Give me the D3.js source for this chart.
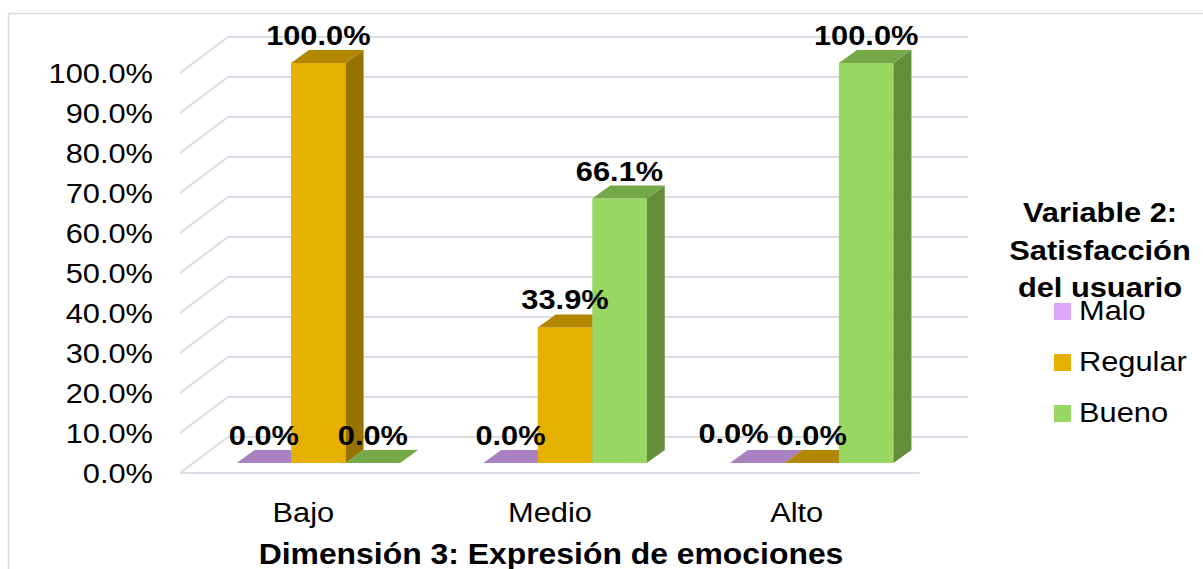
<!DOCTYPE html>
<html>
<head>
<meta charset="utf-8">
<script src="https://cdn.jsdelivr.net/npm/d3@7"></script>
<style>
  html, body { margin: 0; padding: 0; background: #fff; }
  svg { display: block; font-family: "Liberation Sans", Arial, sans-serif; }
</style>
</head>
<body>
<svg id="chart" width="1203" height="569"></svg>
<script>
// Chart data
const categories = ["Bajo", "Medio", "Alto"];
const series = ["Malo", "Regular", "Bueno"];
const valuesMalo = [0.0, 0.0, 0.0];
const valuesRegular = [1.0, 0.339, 0.0];
const valuesBueno = [0.0, 0.661, 1.0];
const yTicks = [0, 0.1, 0.2, 0.3, 0.4, 0.5, 0.6, 0.7, 0.8, 0.9, 1.0];
const xTitle = "Dimensión 3: Expresión de emociones";
const legendTitle = ["Variable 2:", "Satisfacción", "del usuario"];

const seriesValues = [valuesMalo, valuesRegular, valuesBueno];

// Face colours per series: front, top, side
const frontCol = ["#dca8f9", "#e6b000", "#98d762"];
const topCol   = ["#a981c1", "#b38600", "#75a846"];
const sideCol  = ["#9170a6", "#977200", "#658e3b"];

const svg = d3.select("#chart");
const SX = 1.1;      // horizontal stretch of the lettering
const FS = 28;       // font size

// Geometry of the 3-D box
const floorL = 180, floorR = 920;
const wall = { dx: 48, dy: -36 };       // depth from front floor edge to back wall
const barFront = { dx: 15, dy: -10 };   // front plane of the columns
const barDepth = { dx: 18, dy: -13 };   // thickness of each column

const y = d3.scaleLinear().domain([0, 1]).range([473, 73]);
const x = d3.scaleBand().domain(categories).range([floorL, floorR]);
const groupW = x.bandwidth() * 0.663;
const xs = d3.scaleBand().domain(series).range([0, groupW]);

function placeText(sel, px, py) {
  return sel.attr("transform", `translate(${px},${py}) scale(${SX},1)`);
}

// Outer chart border
svg.append("rect")
  .attr("x", 8.5).attr("y", 13.5)
  .attr("width", 1210).attr("height", 600)
  .attr("fill", "none").attr("stroke", "#d9dce3").attr("stroke-width", 1.5);

// Gridlines: side wall diagonals + back wall horizontals
const grid = svg.append("g").attr("stroke", "#d9dce5").attr("stroke-width", 2).attr("fill", "none");
yTicks.forEach(t => {
  const yy = y(t);
  grid.append("path").attr("d",
    `M${floorL},${yy} L${floorL + wall.dx},${yy + wall.dy} L${floorR + wall.dx},${yy + wall.dy}`);
});
// Front floor edge
grid.append("line")
  .attr("x1", floorL).attr("x2", floorR)
  .attr("y1", y(0)).attr("y2", y(0));

// Y tick labels
svg.append("g").selectAll("text").data(yTicks).join("text")
  .attr("text-anchor", "end")
  .attr("font-size", FS).attr("fill", "#000")
  .each(function(t) { placeText(d3.select(this), 153, y(t) + 10); })
  .text(t => d3.format(".1%")(t));

// Columns
const bars = svg.append("g");
const labels = [];
categories.forEach((c, ci) => {
  series.forEach((s, si) => {
    const v = seriesValues[si][ci];
    const x0 = x(c) + (x.bandwidth() - groupW) / 2 + xs(s) + barFront.dx;
    const x1 = x0 + xs.bandwidth();
    const yb = y(0) + barFront.dy;
    const yt = y(v) + barFront.dy;
    const g = bars.append("g");
    // front face
    if (yb - yt > 0) {
      g.append("rect").attr("x", x0).attr("y", yt)
        .attr("width", x1 - x0).attr("height", yb - yt)
        .attr("fill", frontCol[si]);
      // side face
      g.append("path").attr("d",
        `M${x1},${yt} L${x1 + barDepth.dx},${yt + barDepth.dy} L${x1 + barDepth.dx},${yb + barDepth.dy} L${x1},${yb} Z`)
        .attr("fill", sideCol[si]);
    }
    // top face
    g.append("path").attr("d",
      `M${x0},${yt} L${x0 + barDepth.dx},${yt + barDepth.dy} L${x1 + barDepth.dx},${yt + barDepth.dy} L${x1},${yt} Z`)
      .attr("fill", topCol[si]);
    labels.push({ ci, si, v, cx: (x0 + x1) / 2, by: yt + barDepth.dy - 5 });
  });
});

// Data labels, nudging apart ones that would collide
const lblG = svg.append("g")
  .attr("font-size", FS).attr("font-weight", "bold").attr("fill", "#000")
  .attr("text-anchor", "middle");
const nodes = labels.map(d => {
  const t = lblG.append("text").text(d3.format(".1%")(d.v));
  placeText(t, d.cx, d.by);
  return { d, t, w: t.node().getComputedTextLength() * SX };
});
for (let i = nodes.length - 2; i >= 0; i--) {
  const a = nodes[i], b = nodes[i + 1];
  if (a.d.ci !== b.d.ci || Math.abs(a.d.by - b.d.by) > 20) continue;
  const aRight = a.d.cx + a.w / 2, bLeft = b.d.cx - b.w / 2;
  if (aRight > bLeft - 8) {
    a.d.cx = bLeft - 8 - a.w / 2;
    placeText(a.t, a.d.cx, a.d.by - 2);
  }
}

// Category labels
svg.append("g").selectAll("text").data(categories).join("text")
  .attr("text-anchor", "middle").attr("font-size", FS).attr("fill", "#000")
  .each(function(c) { placeText(d3.select(this), x(c) + x.bandwidth() / 2, 522); })
  .text(c => c);

// Axis title
placeText(svg.append("text")
  .attr("text-anchor", "middle").attr("font-size", 29).attr("font-weight", "bold")
  .attr("fill", "#000").text(xTitle), 551, 564);

// Legend
const leg = svg.append("g");
legendTitle.forEach((line, i) => {
  placeText(leg.append("text")
    .attr("text-anchor", "middle").attr("font-size", FS).attr("font-weight", "bold")
    .attr("fill", "#000").text(line), 1100, 222 + i * 37.5);
});
series.forEach((s, i) => {
  const top = 303 + i * 51;
  leg.append("rect").attr("x", 1054).attr("y", top)
    .attr("width", 17).attr("height", 17).attr("fill", frontCol[i]);
  placeText(leg.append("text").attr("font-size", FS).attr("fill", "#000").text(s), 1079, top + 17);
});
</script>
</body>
</html>
